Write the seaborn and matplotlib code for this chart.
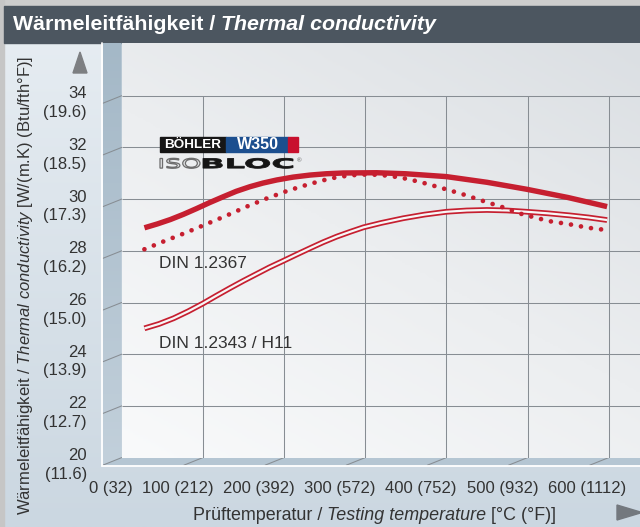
import numpy as np
import pandas as pd
import matplotlib
matplotlib.use("Agg")
import matplotlib.pyplot as plt
import matplotlib.transforms as mtransforms
from matplotlib.patches import Polygon, Rectangle, PathPatch
from matplotlib.textpath import TextPath
from matplotlib.font_manager import FontProperties
from matplotlib.colors import LinearSegmentedColormap
import seaborn as sns

# values
temp_w350 = [28, 44, 60, 76, 92, 108, 125, 141, 158, 174, 191, 211, 232, 252, 273,
             314, 350, 400, 450, 499, 550, 598]
k_w350 = [28.89, 29.04, 29.21, 29.41, 29.63, 29.86, 30.09, 30.30, 30.48, 30.62,
          30.74, 30.85, 30.93, 30.98, 31.01, 31.02, 30.98, 30.87, 30.65, 30.38,
          30.06, 29.71]

temp_2367 = [28, 53, 79, 104, 129, 154, 179, 205, 231, 257, 281, 300, 318, 343,
             368, 393, 419, 444, 469, 493, 526, 551, 575, 598]
k_2367 = [28.06, 28.38, 28.70, 29.03, 29.36, 29.71, 30.03, 30.33, 30.58, 30.80,
          30.92, 30.95, 30.94, 30.84, 30.66, 30.44, 30.20, 29.94, 29.69, 29.42,
          29.15, 29.03, 28.89, 28.80]

temp_2343 = [28, 46, 64, 82, 100, 116, 133, 150, 166, 182, 199, 215, 232, 248, 265,
             282, 298, 320, 347, 373, 400, 425, 450, 475, 499, 525, 552, 575, 598]
k_2343 = [25.00, 25.17, 25.39, 25.66, 25.96, 26.25, 26.55, 26.84, 27.10, 27.36,
          27.61, 27.85, 28.10, 28.33, 28.55, 28.74, 28.91, 29.08, 29.26, 29.40,
          29.51, 29.56, 29.58, 29.56, 29.51, 29.45, 29.37, 29.29, 29.19]

y_ticks = [20, 22, 24, 26, 28, 30, 32, 34]
y_ticks_f = ["11.6", "12.7", "13.9", "15.0", "16.2", "17.3", "18.5", "19.6"]
x_ticks = [0, 100, 200, 300, 400, 500, 600]
x_ticks_f = ["32", "212", "392", "572", "752", "932", "1112"]

red = "#c61f30"
text_col = "#333333"
grid_col = "#878d93"

sns.set_theme(style="white")
plt.rcParams["font.family"] = ["Liberation Sans", "DejaVu Sans"]
plt.rcParams["mathtext.fontset"] = "custom"
plt.rcParams["mathtext.rm"] = "Liberation Sans"
plt.rcParams["mathtext.it"] = "Liberation Sans:italic"

W, H = 640, 527
X0, PX_C = 121.7, 0.8117      # pixel of 0 degC, pixels per degC
Y34, PX_K = 95.7, 25.85       # pixel of 34 W/mK, pixels per W/mK
TOP = 43
DX, DY = -19, 7.6             # depth of the fake 3d box


def px_x(t):
    return X0 + t * PX_C


def px_y(k):
    return Y34 + (34 - k) * PX_K


fig = plt.figure(figsize=(W / 100, H / 100), dpi=100)

# canvas in pixel coordinates for the decoration
bg = fig.add_axes([0, 0, 1, 1])
bg.set_xlim(0, W)
bg.set_ylim(H, 0)
bg.axis("off")

cm_bg = LinearSegmentedColormap.from_list("bg", ["#e8eef3", "#cbd7e1"])
bg.imshow(np.linspace(0, 1, 256).reshape(-1, 1), cmap=cm_bg, aspect="auto",
          extent=(0, W, H, 0), zorder=0)
bg.add_patch(Rectangle((0, 0), W, 6, color="#cdcdcd", zorder=1))
bg.add_patch(Rectangle((0, 0), 4, H, color="#c6c6c6", zorder=1))
bg.add_patch(Rectangle((4, 6), W - 4, TOP - 6, color="#4c5660", zorder=2))

y_bot = px_y(20)
wall = Polygon([(X0 + DX, TOP), (X0, TOP), (X0, y_bot), (X0 + DX, y_bot + DY)],
               closed=True, facecolor="none", edgecolor="none")
bg.add_patch(wall)
cm_wall = LinearSegmentedColormap.from_list("wall", ["#a4b8c7", "#c2d0db"])
im = bg.imshow(np.linspace(0, 1, 256).reshape(-1, 1), cmap=cm_wall, aspect="auto",
               extent=(X0 + DX, X0, y_bot + DY, TOP), zorder=2)
im.set_clip_path(wall)
bg.add_patch(Polygon([(X0 + DX, y_bot + DY), (X0, y_bot), (W, y_bot), (W, y_bot + DY)],
                     closed=True, facecolor="#b5c6d3", edgecolor="none", zorder=2))
for k in y_ticks:
    bg.plot([X0, X0 + DX], [px_y(k), px_y(k) + DY], color=grid_col, lw=0.75, zorder=3)
for t in x_ticks[1:]:
    bg.plot([px_x(t), px_x(t) + DX], [y_bot, y_bot + DY], color=grid_col, lw=0.75, zorder=3)
bg.plot([X0 + DX - 1, X0 + DX - 1], [TOP, y_bot + DY + 1], color="white", lw=1.3, zorder=3)
bg.plot([X0 + DX - 1, W], [y_bot + DY + 1, y_bot + DY + 1], color="white", lw=1.3, zorder=3)

# arrows
bg.add_patch(Polygon([(73, 73), (87, 73), (80, 52)], color="#7d7f82", zorder=3))
bg.add_patch(Polygon([(617, 505), (617, 520), (642, 512.5)], color="#73787e", zorder=3))

# title
t1 = bg.text(13, 25, "Wärmeleitfähigkeit /", color="white", fontsize=15.4,
             fontweight="bold", va="center", ha="left", zorder=4)
bg.annotate("Thermal conductivity", xy=(1, 0), xycoords=t1, xytext=(4.2, 0),
            textcoords="offset points", color="white", fontsize=15.4,
            fontweight="bold", style="italic", va="bottom", ha="left", zorder=4)

# tick labels
for k, f in zip(y_ticks, y_ticks_f):
    bg.text(87, px_y(k) + 7.3, f"{k}\n({f})", ha="right", va="center",
            fontsize=12, color=text_col, linespacing=1.3, zorder=4)
for t, f in zip(x_ticks, x_ticks_f):
    shift = 28 if t == 0 else 0
    bg.text(px_x(t) - 61 + shift, 488, f"{t} ({f})", ha="left", va="center",
            fontsize=12, color=text_col, zorder=4)

# axis titles
xt1 = bg.text(193, 516, "Prüftemperatur /", ha="left", va="center",
              fontsize=12.9, color=text_col, zorder=4)
xt2 = bg.annotate("Testing temperature", xy=(1, 0), xycoords=xt1, xytext=(3.5, 0),
                  textcoords="offset points", style="italic", fontsize=12.9,
                  color=text_col, va="bottom", ha="left", zorder=4)
bg.annotate("[°C (°F)]", xy=(1, 0), xycoords=xt2, xytext=(3.5, 0),
            textcoords="offset points", fontsize=12.9, color=text_col,
            va="bottom", ha="left", zorder=4)
bg.text(26, 285, r"Wärmeleitfähigkeit / $\mathit{Thermal\ conductivity}$ [W/(m.K) (Btu/fth°F)]",
        rotation=90, ha="center", va="center", fontsize=12, color=text_col, zorder=4)

# data axes (back wall of the box)
ax = fig.add_axes([X0 / W, 1 - y_bot / H, (W - X0) / W, (y_bot - TOP) / H])
xmax = (W - X0) / PX_C
ytop = 34 + (Y34 - TOP) / PX_K
xx, yy = np.meshgrid(np.linspace(0, 1, 200), np.linspace(0, 1, 200))
cm_wall2 = LinearSegmentedColormap.from_list("back", ["#f9fafb", "#eceef0", "#dbdfe3"])
ax.imshow((0.55 * xx + 0.8 * yy) / 1.35, cmap=cm_wall2, origin="lower", aspect="auto",
          extent=(0, xmax, 20, ytop), zorder=0)
ax.hlines(y_ticks[1:], 0, xmax, color=grid_col, lw=0.75, zorder=1)
ax.vlines(x_ticks[1:], 20, 34, color=grid_col, lw=0.75, zorder=1)

df_w350 = pd.DataFrame({"temp": temp_w350, "k": k_w350})
df_2367 = pd.DataFrame({"temp": temp_2367, "k": k_2367})
df_2343 = pd.DataFrame({"temp": temp_2343, "k": k_2343})

sns.lineplot(data=df_2343, x="temp", y="k", ax=ax, color=red, lw=4.1,
             solid_capstyle="butt", solid_joinstyle="round", zorder=3)
sns.lineplot(data=df_2343, x="temp", y="k", ax=ax, color="#f7f7f7", lw=1.6,
             solid_capstyle="butt", solid_joinstyle="round", zorder=3)
sns.lineplot(data=df_2367, x="temp", y="k", ax=ax, color=red, lw=3.4,
             linestyle=(0, (0.001, 2.15)), dash_capstyle="round", zorder=4)
sns.lineplot(data=df_w350, x="temp", y="k", ax=ax, color=red, lw=3.9,
             solid_capstyle="butt", solid_joinstyle="round", zorder=5)

ax.text(46, 27.52, "DIN 1.2367", fontsize=12.5, color=text_col, va="center", ha="left")
ax.text(46, 24.42, "DIN 1.2343 / H11", fontsize=12.5, color=text_col, va="center", ha="left")

ax.set_xlim(0, xmax)
ax.set_ylim(20, ytop)
ax.set_xticks([])
ax.set_yticks([])
ax.set_xlabel("")
ax.set_ylabel("")
for s in ax.spines.values():
    s.set_visible(False)

# logo (pixel coordinates on the canvas, drawn on top)
lg = fig.add_axes([0, 0, 1, 1])
lg.set_xlim(0, W)
lg.set_ylim(H, 0)
lg.axis("off")
lg.patch.set_alpha(0)
lg.add_patch(Rectangle((160, 136.7), 66, 15, color="#161616"))
lg.add_patch(Rectangle((226, 136.7), 62.3, 15, color="#1c4f8f"))
lg.add_patch(Rectangle((288.3, 136.7), 10, 15, color="#c8102e"))
lg.text(193, 144.6, "BÖHLER", color="white", fontsize=9.7, fontweight="bold",
        ha="center", va="center")
lg.text(257.5, 144.6, "W350", color="white", fontsize=11.5, fontweight="bold",
        ha="center", va="center")


def logo_word(word, x0, x1, base, height, prop, **kw):
    tp = TextPath((0, 0), word, size=10, prop=prop)
    ext = tp.get_extents()
    tr = (mtransforms.Affine2D().translate(-ext.x0, -ext.y0)
          .scale((x1 - x0) / ext.width, -height / ext.height)
          .translate(x0, base))
    lg.add_patch(PathPatch(tp, transform=tr + lg.transData, **kw))


logo_word("ISO", 160, 200, 168.3, 10, FontProperties(family="DejaVu Sans"),
          facecolor="#e2e4e6", edgecolor="#6d6d6d", lw=0.9)
logo_word("BLOC", 203, 293, 168.3, 10, FontProperties(family="DejaVu Sans", weight="bold"),
          facecolor="#151515", edgecolor="#151515", lw=0.6)
lg.text(299, 160.5, "®", fontsize=4.5, color="#555555", ha="center", va="center")

fig.savefig("out.png", dpi=100)
